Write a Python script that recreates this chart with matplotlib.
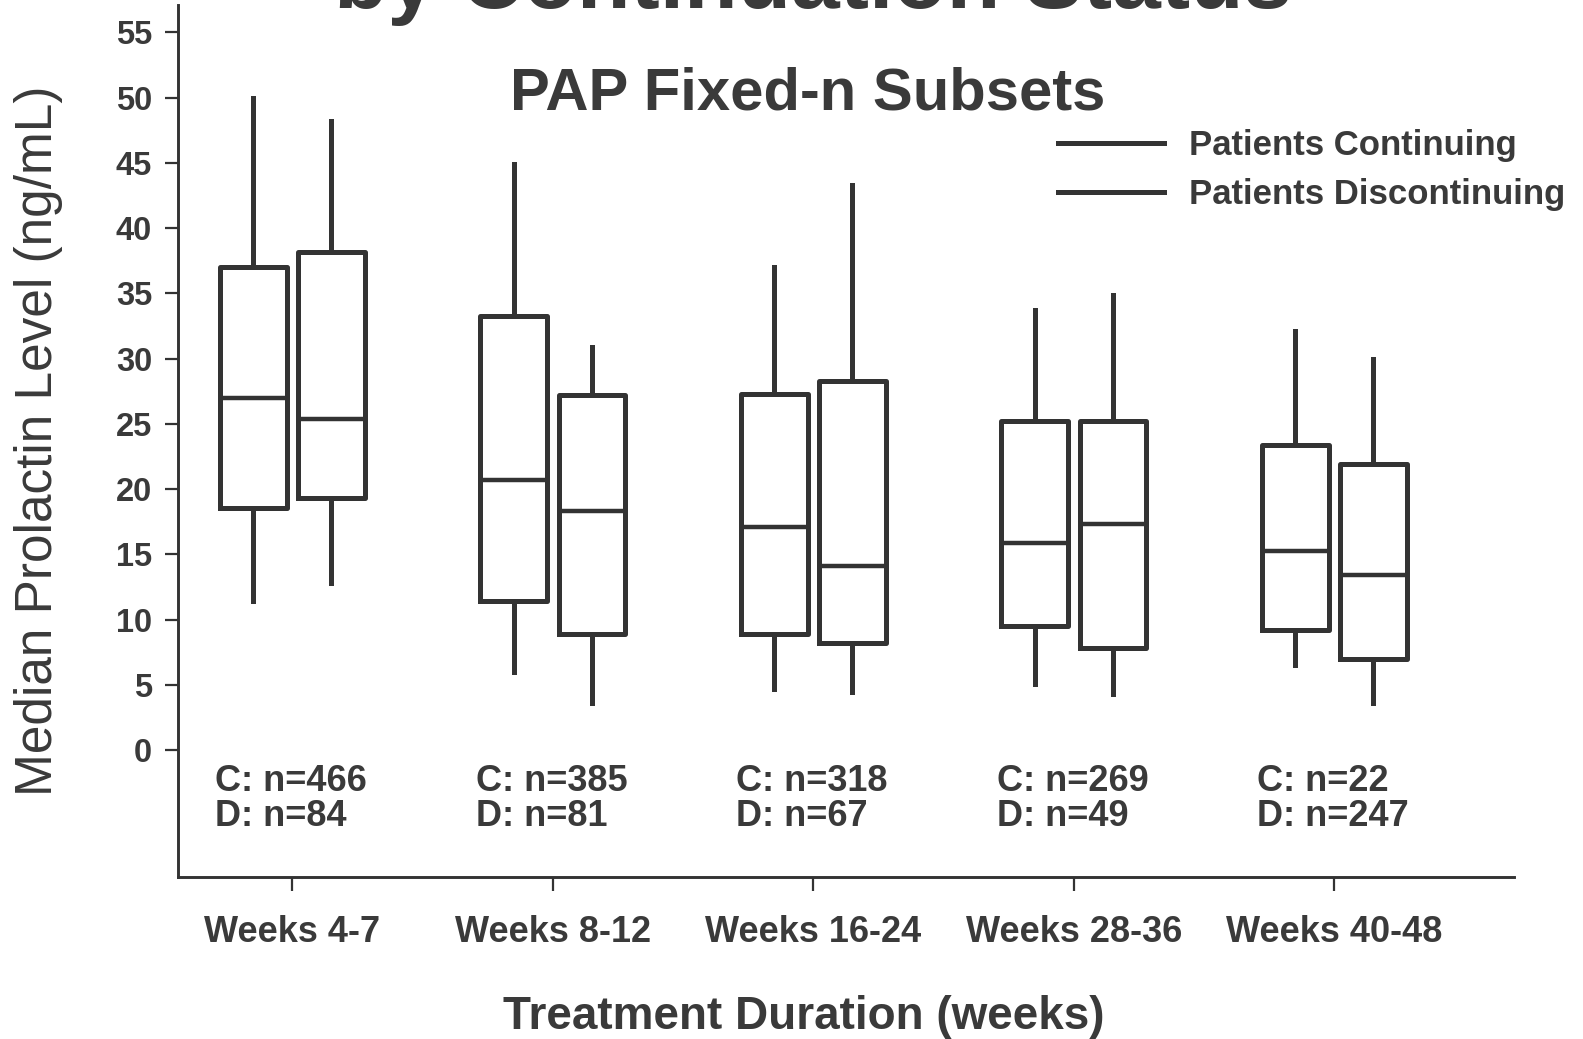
import matplotlib
matplotlib.use('Agg')
import matplotlib.pyplot as plt
from matplotlib.lines import Line2D

plt.rcParams['font.family'] = ['Liberation Sans', 'DejaVu Sans']

# median prolactin (ng/mL) by treatment window, continuing vs discontinuing
periods = ['Weeks 4-7', 'Weeks 8-12', 'Weeks 16-24', 'Weeks 28-36', 'Weeks 40-48']
n_cont = [466, 385, 318, 269, 22]
n_disc = [84, 81, 67, 49, 247]

# whisker low, q1, median, q3, whisker high
cont_lo = [11.4, 6.0, 4.7, 5.1, 6.5]
cont_q1 = [18.6, 11.4, 8.9, 9.5, 9.2]
cont_med = [27.0, 20.7, 17.1, 15.9, 15.3]
cont_q3 = [37.0, 33.3, 27.3, 25.2, 23.4]
cont_hi = [50.0, 44.9, 37.0, 33.7, 32.1]

disc_lo = [12.8, 3.6, 4.5, 4.3, 3.6]
disc_q1 = [19.3, 8.9, 8.2, 7.8, 7.0]
disc_med = [25.4, 18.3, 14.1, 17.3, 13.4]
disc_q3 = [38.2, 27.2, 28.3, 25.2, 21.9]
disc_hi = [48.2, 30.9, 43.3, 34.9, 30.0]

ink = '#333333'
txt = '#3a3a3a'
W, H = 1583, 1039

fig = plt.figure(figsize=(W / 100, H / 100), dpi=100)
ax = fig.add_axes([177.7 / W, 1 - 877.4 / H, (1514 - 177.7) / W, (877.4 - 5) / H])


def stats(lo, q1, med, q3, hi):
    return [dict(whislo=a, q1=b, med=c, q3=d, whishi=e, fliers=[])
            for a, b, c, d, e in zip(lo, q1, med, q3, hi)]


pos = list(range(1, len(periods) + 1))
style = dict(widths=0.256, showcaps=False, showfliers=False,
             boxprops=dict(color=ink, linewidth=3.6),
             whiskerprops=dict(color=ink, linewidth=3.6),
             medianprops=dict(color=ink, linewidth=3.2))
ax.bxp(stats(cont_lo, cont_q1, cont_med, cont_q3, cont_hi),
       positions=[p - 0.15 for p in pos], **style)
ax.bxp(stats(disc_lo, disc_q1, disc_med, disc_q3, disc_hi),
       positions=[p + 0.15 for p in pos], **style)

# sample sizes under each pair
for p, c, d in zip(pos, n_cont, n_disc):
    ax.text(p - 0.295, -2.4, f'C: n={c}', ha='left', va='center',
            fontsize=26, fontweight='bold', color=txt)
    ax.text(p - 0.295, -5.1, f'D: n={d}', ha='left', va='center',
            fontsize=26, fontweight='bold', color=txt)

ax.set_xlim(0.56, 5.69)
ax.set_ylim(-9.74, 57.1)
ax.set_yticks(range(0, 56, 5))
ax.set_xticks(pos)
ax.set_xticklabels(periods)

ax.spines['top'].set_visible(False)
ax.spines['right'].set_visible(False)
for s in ('left', 'bottom'):
    ax.spines[s].set_linewidth(2.1)
    ax.spines[s].set_color(ink)

ax.tick_params(axis='y', direction='out', length=9.5, width=1.6, color=ink,
               pad=9, labelsize=23.5, labelcolor=txt)
ax.tick_params(axis='x', direction='out', length=10, width=1.6, color=ink,
               pad=17, labelsize=26, labelcolor=txt)
for lab in ax.get_xticklabels() + ax.get_yticklabels():
    lab.set_fontweight('bold')

ax.set_ylabel('Median Prolactin Level (ng/mL)', fontsize=37, color=txt, va='center')
ax.yaxis.set_label_coords(-0.1045, 0.5)
ax.set_xlabel('Treatment Duration (weeks)', fontsize=33, fontweight='bold', color=txt, va='top')
ax.xaxis.set_label_coords(0.4687, -0.135)

handles = [Line2D([], [], color=ink, linewidth=3.6),
           Line2D([], [], color=ink, linewidth=3.6)]
leg = fig.legend(handles, ['Patients Continuing', 'Patients Discontinuing'],
                 loc='center left', bbox_to_anchor=(1058 / W, 1 - 170 / H),
                 frameon=False, borderpad=0, borderaxespad=0,
                 handlelength=3.05, handletextpad=0.72, labelspacing=0.48,
                 prop=dict(size=25, weight='bold'))
for t in leg.get_texts():
    t.set_color(txt)

fig.text(808 / W, 1 - 109 / H, 'PAP Fixed-n Subsets', ha='center', va='baseline',
         fontsize=43, fontweight='bold', color=txt)
fig.text(813 / W, 1 - 8 / H, 'by Continuation Status', ha='center', va='baseline',
         fontsize=63, fontweight='bold', color=txt)

fig.savefig('out.png', dpi=100, facecolor='white')
